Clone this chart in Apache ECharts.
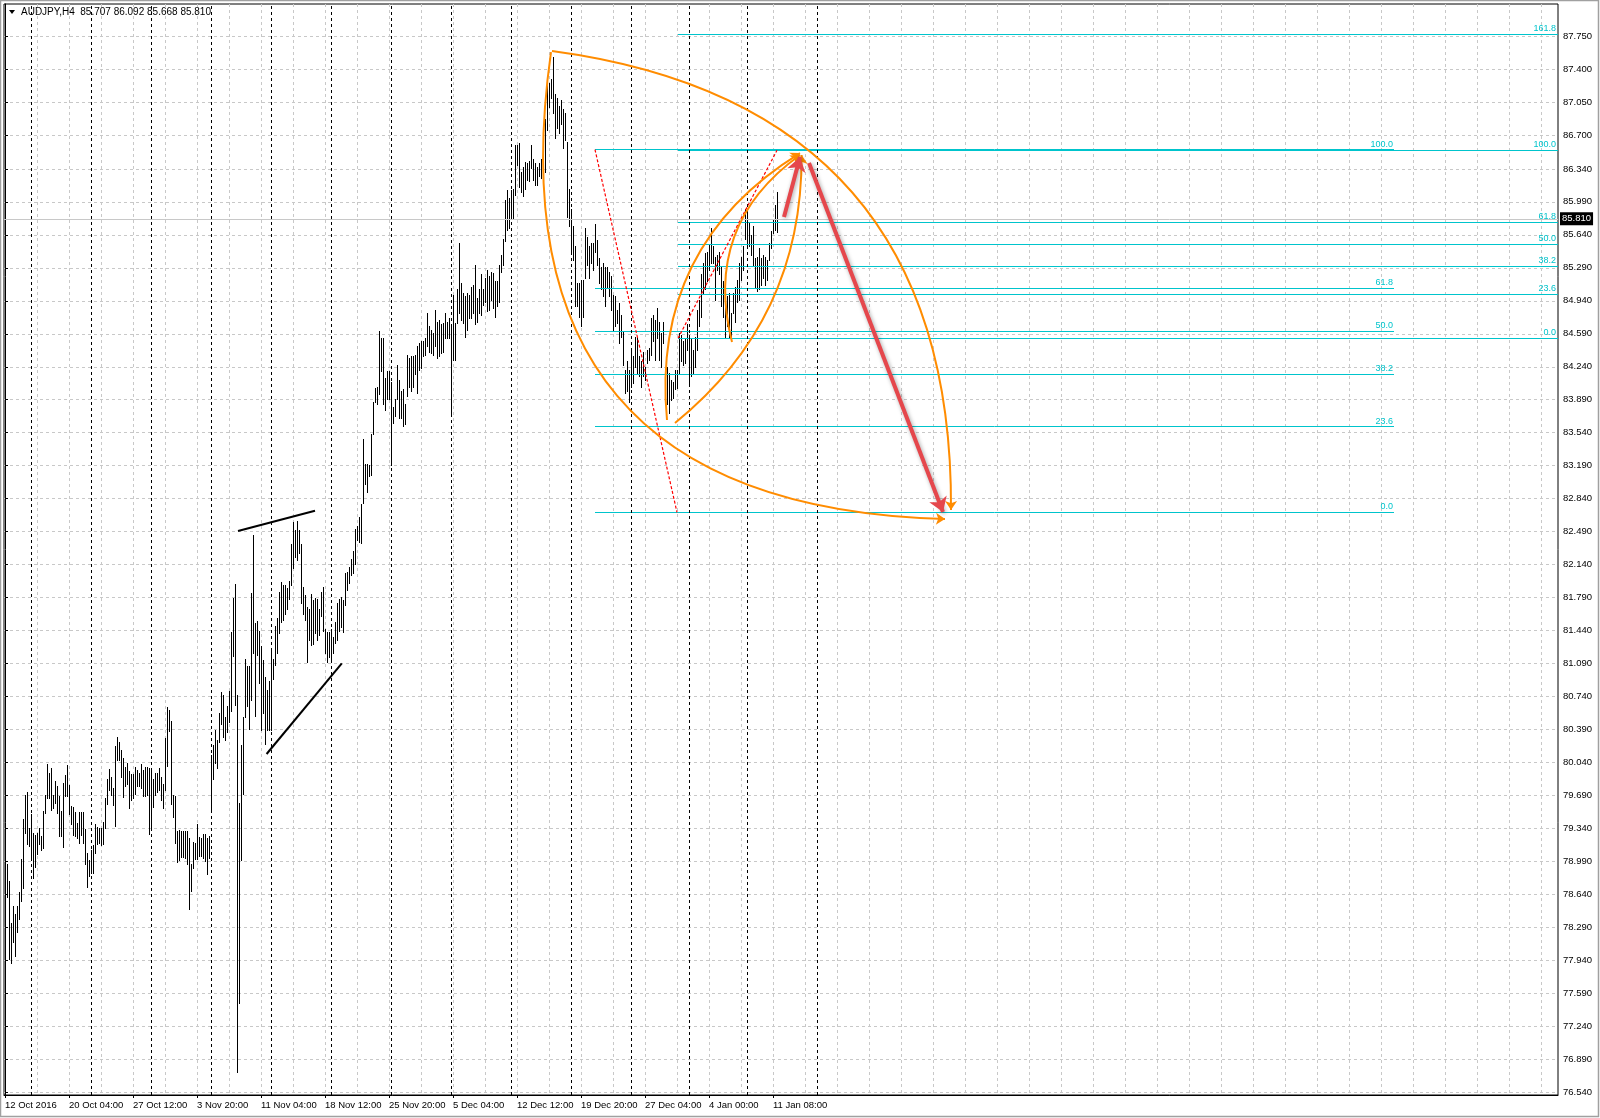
<!DOCTYPE html>
<html><head><meta charset="utf-8">
<script src="https://cdn.jsdelivr.net/npm/echarts@6/dist/echarts.min.js"></script>
<style>html,body{margin:0;padding:0;background:#fff}#c{width:1600px;height:1118px}</style>
</head><body><div id="c"></div>
<script>
// ---------- data ----------
const symbolName = 'AUDJPY';
const timeframe = 'H4';
const lastBarOHLC = [85.707, 86.092, 85.668, 85.810];

const barHighs = [
79.03,78.96,78.78,78.34,78.52,78.43,78.52,78.67,79.02,79.44,
79.70,79.73,79.34,79.49,79.29,79.27,79.29,79.34,79.26,79.53,
79.70,80.02,79.93,79.98,79.70,79.84,79.79,79.68,79.52,79.82,
79.91,80.01,79.80,79.58,79.57,79.51,79.40,79.51,79.51,79.51,
79.33,79.08,79.00,79.11,79.16,79.39,79.36,79.35,79.34,79.41,
79.66,79.86,79.97,79.89,79.77,80.22,80.31,80.26,80.17,80.09,
79.99,80.03,79.95,79.92,79.92,79.99,79.96,79.93,80.02,79.96,
79.99,79.99,79.98,79.96,79.86,79.93,79.93,79.98,79.89,79.81,
80.30,80.63,80.60,80.48,79.70,79.68,79.31,79.32,79.31,79.31,
79.31,79.31,79.24,78.96,79.20,79.19,79.39,79.25,79.24,79.28,
79.28,79.24,79.26,80.12,80.23,80.39,80.28,80.56,80.79,80.76,
80.52,80.64,80.80,81.43,81.79,81.93,80.76,79.61,80.23,80.52,
81.14,81.06,81.06,81.84,82.45,81.52,81.54,81.44,81.28,81.13,
80.95,80.81,80.91,81.25,81.14,81.49,81.57,81.85,81.96,81.92,
81.92,81.89,81.97,82.36,82.59,82.51,82.60,82.51,82.36,81.90,
81.82,81.69,81.67,81.83,81.76,81.79,81.78,81.67,81.85,81.90,
81.46,81.43,81.42,81.46,81.37,81.53,81.73,81.78,81.80,81.76,
82.05,82.06,82.11,82.20,82.28,82.52,82.55,82.65,82.78,83.47,
83.21,83.21,83.20,83.53,83.87,84.01,84.02,84.62,84.54,84.54,
84.12,84.20,84.20,84.08,83.81,83.90,84.26,84.10,83.98,84.00,
83.84,84.37,84.33,84.35,84.35,84.37,84.46,84.49,84.51,84.51,
84.54,84.81,84.67,84.63,84.60,84.84,84.72,84.74,84.69,84.70,
84.81,84.72,84.76,84.67,85.00,84.70,85.07,85.55,85.13,85.02,
84.99,85.02,85.00,85.09,85.11,85.32,84.97,85.06,85.22,85.07,
85.18,85.27,85.20,85.25,85.23,85.15,85.15,85.32,85.43,85.60,
86.01,86.12,86.03,86.12,86.13,86.59,86.59,86.61,86.31,86.36,
86.41,86.40,86.42,86.59,86.45,86.40,86.36,86.40,86.45,86.56,
86.87,87.28,87.25,87.29,87.53,87.14,87.09,87.01,87.07,86.98,
86.93,86.63,86.13,85.91,85.73,85.52,85.13,85.13,85.16,85.16,
85.71,85.62,85.52,85.55,85.55,85.75,85.59,85.39,85.30,85.34,
85.30,85.30,85.25,85.20,85.00,84.99,84.84,84.92,84.79,84.61,
84.21,84.30,84.21,84.42,84.35,84.56,84.56,84.35,84.30,84.40,
84.24,84.42,84.44,84.76,84.79,84.74,84.86,84.72,84.60,84.72,
84.14,84.24,84.17,84.10,84.08,84.21,84.21,84.60,84.58,84.51,
84.54,84.69,84.58,84.54,84.42,84.56,84.84,84.95,85.22,85.34,
85.45,85.46,85.53,85.71,85.52,85.41,85.43,85.46,85.30,85.15,
85.06,84.99,85.02,84.81,85.02,85.09,85.16,85.34,85.41,85.52,
85.91,85.91,85.78,85.64,85.73,85.39,85.41,85.50,85.39,85.43,
85.41,85.37,85.55,85.68,85.80,85.96,86.09
];
const barLows = [
78.78,78.61,77.95,77.91,78.14,77.99,78.24,78.38,78.57,78.71,
79.29,79.17,79.15,79.01,78.81,78.93,79.07,79.17,79.11,79.13,
79.50,79.66,79.66,79.54,79.56,79.61,79.50,79.26,79.26,79.14,
79.68,79.68,79.49,79.39,79.27,79.26,79.24,79.19,79.27,79.19,
78.96,78.72,78.83,78.87,78.87,79.08,79.18,79.19,79.16,79.17,
79.34,79.60,79.75,79.70,79.59,79.37,80.07,80.07,79.89,79.67,
79.79,79.81,79.56,79.64,79.66,79.71,79.79,79.79,79.77,79.68,
79.68,79.70,79.28,79.36,79.57,79.70,79.73,79.75,79.64,79.56,
79.75,80.00,80.37,79.60,79.46,79.19,78.98,79.01,79.04,79.04,
79.03,78.96,78.48,78.68,78.92,79.02,79.02,79.05,79.05,79.03,
78.99,78.86,79.03,79.54,79.86,80.03,79.98,80.26,80.45,80.31,
80.28,80.36,80.47,80.59,81.17,80.65,76.76,77.49,79.01,79.71,
80.52,80.64,80.40,80.70,81.20,80.53,81.18,80.88,80.39,80.56,
80.24,80.38,80.38,80.38,80.93,81.07,81.20,81.41,81.53,81.55,
81.62,81.67,81.78,81.92,82.10,82.22,82.19,82.26,81.73,81.62,
81.55,81.11,81.34,81.29,81.30,81.41,81.34,81.39,81.59,81.44,
81.20,81.11,81.16,81.13,81.20,81.31,81.34,81.44,81.48,81.43,
81.71,81.87,81.94,82.03,82.05,82.15,82.40,82.38,82.37,82.79,
83.00,82.91,83.08,83.09,83.53,83.87,83.85,83.95,84.19,83.85,
83.78,83.90,83.90,83.20,83.64,83.72,83.90,83.70,83.70,83.61,
83.63,83.93,84.03,83.98,84.03,84.16,83.96,84.21,84.23,84.35,
84.37,84.46,84.40,84.39,84.37,84.46,84.33,84.35,84.39,84.40,
84.54,84.54,84.54,83.73,84.31,84.31,84.70,84.81,84.74,84.70,
84.56,84.63,84.76,84.76,84.81,84.69,84.72,84.81,84.79,84.90,
84.93,84.83,84.84,84.95,84.86,84.77,84.88,84.93,85.25,85.32,
85.57,85.69,85.71,85.82,85.82,86.06,86.38,86.15,86.10,86.05,
86.13,86.22,86.21,86.35,86.22,86.17,86.17,86.26,86.24,86.28,
86.31,86.75,87.00,87.09,86.93,86.67,86.77,86.72,86.82,86.56,
86.65,85.83,85.73,85.45,85.37,84.88,84.88,84.77,84.67,84.77,
85.18,85.32,85.18,85.34,85.27,85.46,85.32,85.13,85.06,84.99,
84.88,85.09,84.99,84.84,84.63,84.67,84.70,84.49,84.56,84.26,
83.96,83.98,83.87,84.03,84.07,84.24,84.17,84.14,84.03,84.14,
84.10,84.28,84.31,84.37,84.51,84.31,84.54,84.31,84.24,84.49,
83.98,83.84,83.75,83.89,83.91,84.00,84.01,84.17,84.30,84.26,
84.28,84.42,84.05,84.14,84.17,84.24,84.42,84.67,84.77,85.02,
85.06,85.15,85.27,85.34,85.34,84.95,85.27,85.22,84.88,84.77,
84.56,84.67,84.56,84.54,84.81,84.72,84.93,84.95,85.16,85.27,
85.60,85.50,85.52,85.43,85.32,85.09,85.04,85.06,85.11,85.18,
85.11,85.16,85.37,85.50,85.66,85.69,85.67
];

const xTickLabels = ['12 Oct 2016','20 Oct 04:00','27 Oct 12:00','3 Nov 20:00','11 Nov 04:00',
  '18 Nov 12:00','25 Nov 20:00','5 Dec 04:00','12 Dec 12:00','19 Dec 20:00','27 Dec 04:00',
  '4 Jan 00:00','11 Jan 08:00'];
const barsPerLabel = 32;
const barsPerGridLine = 16;
const totalSlots = 777;           // bars + empty future space
const weekSeparators = [13,43,73,103,133,163,193,223,253,283,313,342,371,406];

const yTickLabels = [76.540,76.890,77.240,77.590,77.940,78.290,78.640,78.990,79.340,79.690,
  80.040,80.390,80.740,81.090,81.440,81.790,82.140,82.490,82.840,83.190,83.540,83.890,
  84.240,84.590,84.940,85.290,85.640,85.990,86.340,86.700,87.050,87.400,87.750];
const priceRange = [76.511, 88.090];

// Fibonacci retracements
const fibA = { low: 82.695, high: 86.545, startBar: 295, endBar: 694.5 };
const fibALevels = [0, 23.6, 38.2, 50, 61.8, 100];
const fibB = { low: 84.542, high: 86.537, startBar: 336.5, endBar: 776.5 };
const fibBLevels = [0, 23.6, 38.2, 50, 61.8, 100, 161.8];

// drawn objects: [bar, price] endpoints
const orangeArcs = [
  { from: [273.5, 87.591], to: [473, 82.720], bend: 0.44 },
  { from: [273, 87.580], to: [470, 82.624], bend: -0.56 },
  { from: [331, 83.675], to: [397.5, 86.508], bend: 0.31 },
  { from: [335, 83.643], to: [398.3, 86.487], bend: -0.24 },
  { from: [363.5, 84.503], to: [397.5, 86.487], bend: 0.34 }
];
const redArrows = [
  { from: [389.5, 85.829], to: [397.5, 86.466] },
  { from: [402, 86.402], to: [469, 82.699] }
];
const blackTrendLines = [
  { from: [116.5, 82.497], to: [155, 82.712] },
  { from: [130.8, 80.130], to: [168.4, 81.093] }
];
const fibTrendLines = [
  { from: [295, 86.545], to: [336, 82.695] },
  { from: [336.5, 84.542], to: [386, 86.537] }
];

// ---------- chart ----------
const FONT = '"Liberation Sans", Arial, sans-serif';
const CYAN = '#00c4cc';
const chart = echarts.init(document.getElementById('c'), null, { renderer: 'canvas' });

const barData = barHighs.map((h, i) => [i, h, barLows[i]]);
const xLabelVals = xTickLabels.map((_, i) => i * barsPerLabel);
const gridVals = [];
for (let v = 0; v < totalSlots; v += barsPerGridLine) gridVals.push(v);

function fibItems(f, levels) {
  return levels.map(l => ({
    name: l.toFixed(1),
    coords: [[f.startBar, f.low + (f.high - f.low) * l / 100], [f.endBar, f.low + (f.high - f.low) * l / 100]]
  }));
}
const seg = o => ({ coords: [o.from, o.to] });

const header = symbolName + ',' + timeframe + '  ' + lastBarOHLC.map(v => v.toFixed(3)).join(' ');

chart.setOption({
  animation: false,
  backgroundColor: '#fff',
  grid: { left: 4, top: 4, right: 42, bottom: 23, show: true, borderColor: '#000', borderWidth: 1, backgroundColor: '#fff' },
  xAxis: [{
    type: 'value', min: -0.5, max: totalSlots - 0.5, position: 'bottom',
    axisLine: { show: true, lineStyle: { color: '#000' } },
    axisTick: { show: true, customValues: xLabelVals, length: 3, lineStyle: { color: '#000' } },
    axisLabel: { show: true, customValues: xLabelVals, formatter: v => xTickLabels[Math.round(v / barsPerLabel)] || '',
      align: 'left', color: '#000', fontSize: 9.5, fontFamily: FONT, margin: 5 },
    splitLine: { show: false }
  }, {
    type: 'value', min: -0.5, max: totalSlots - 0.5, position: 'top',
    axisLine: { show: false }, axisLabel: { show: false },
    axisTick: { show: false, customValues: gridVals },
    splitLine: { show: true, lineStyle: { color: '#c8c8c8', type: [3, 3], width: 1 } }
  }],
  yAxis: [{
    type: 'value', position: 'right', min: priceRange[0], max: priceRange[1],
    axisLine: { show: true, lineStyle: { color: '#000' } },
    axisTick: { show: true, customValues: yTickLabels, length: 3, lineStyle: { color: '#000' } },
    axisLabel: { show: true, customValues: yTickLabels, formatter: v => v.toFixed(3), color: '#000',
      fontSize: 9.5, fontFamily: FONT, margin: 5 },
    splitLine: { show: true, lineStyle: { color: '#c8c8c8', type: [3, 3], width: 1 } }
  }],
  graphic: [
    { type: 'rect', shape: { x: 0.5, y: 0.5, width: 1598, height: 1116 }, style: { fill: 'none', stroke: '#a0a0a0', lineWidth: 1.5 }, silent: true, z: 100 },
    { type: 'polygon', shape: { points: [[9, 10], [15, 10], [12, 14]] }, style: { fill: '#000' }, z: 100 },
    { type: 'text', x: 21, y: 7, style: { text: header, font: '10px ' + FONT, fill: '#000' }, z: 100 }
  ],
  series: [
    {
      name: 'sep', type: 'line', data: [], silent: true,
      markLine: { silent: true, symbol: 'none', animation: false,
        lineStyle: { color: '#000', type: [3, 3], width: 1 }, label: { show: false },
        data: weekSeparators.map(v => ({ xAxis: v })) }
    },
    {
      name: 'bars', type: 'custom', data: barData, encode: { x: 0, y: [1, 2] }, clip: true, z: 3,
      renderItem: (params, api) => {
        const i = api.value(0);
        const t = api.coord([i, api.value(1)]);
        const b = api.coord([i, api.value(2)]);
        const x = Math.round(t[0]) + 0.5;
        return { type: 'line', shape: { x1: x, y1: Math.round(t[1]), x2: x, y2: Math.round(b[1]) + 1 },
          style: { stroke: '#000', lineWidth: 1 } };
      }
    },
    {
      name: 'bid', type: 'line', data: [], silent: true, z: 2,
      markLine: { silent: true, symbol: 'none', animation: false,
        lineStyle: { color: '#c8c8c8', type: 'solid', width: 1 },
        label: { show: true, position: 'end', formatter: p => p.value.toFixed(3), backgroundColor: '#000',
          color: '#fff', fontSize: 9.5, fontFamily: FONT, padding: [2, 2, 1, 2], distance: 2 },
        data: [{ yAxis: lastBarOHLC[3] }] }
    },
    {
      name: 'fibA', type: 'lines', coordinateSystem: 'cartesian2d', z: 4, silent: true,
      lineStyle: { color: CYAN, width: 1, opacity: 1 },
      label: { show: true, position: 'insideEndTop', formatter: p => p.name, color: CYAN, fontSize: 9, fontFamily: FONT, distance: [1, 1] },
      data: fibItems(fibA, fibALevels)
    },
    {
      name: 'fibB', type: 'lines', coordinateSystem: 'cartesian2d', z: 4, silent: true,
      lineStyle: { color: CYAN, width: 1, opacity: 1 },
      label: { show: true, position: 'insideEndTop', formatter: p => p.name, color: CYAN, fontSize: 9, fontFamily: FONT, distance: [2, 1] },
      data: fibItems(fibB, fibBLevels)
    },
    {
      name: 'fibTrend', type: 'lines', coordinateSystem: 'cartesian2d', z: 5, silent: true,
      lineStyle: { color: '#ff0000', width: 1.2, type: [3, 2], opacity: 1 },
      data: fibTrendLines.map(seg)
    },
    {
      name: 'trend', type: 'lines', coordinateSystem: 'cartesian2d', z: 5, silent: true,
      lineStyle: { color: '#000', width: 2, opacity: 1 },
      data: blackTrendLines.map(seg)
    },
    {
      name: 'arcs', type: 'lines', coordinateSystem: 'cartesian2d', z: 6, silent: true,
      symbol: ['none', 'arrow'], symbolSize: 9,
      lineStyle: { color: '#ff8c00', width: 2, opacity: 1 },
      data: orangeArcs.map(a => ({ coords: [a.from, a.to], lineStyle: { curveness: a.bend } }))
    },
    {
      name: 'redArrows', type: 'lines', coordinateSystem: 'cartesian2d', z: 7, silent: true,
      symbol: ['none', 'arrow'], symbolSize: 14,
      lineStyle: { color: '#e5474c', width: 4, opacity: 1, shadowBlur: 4, shadowColor: 'rgba(0,0,0,0.35)', shadowOffsetX: 1, shadowOffsetY: 1 },
      itemStyle: { color: '#e5474c' },
      data: redArrows.map(seg)
    }
  ]
});
</script></body></html>
